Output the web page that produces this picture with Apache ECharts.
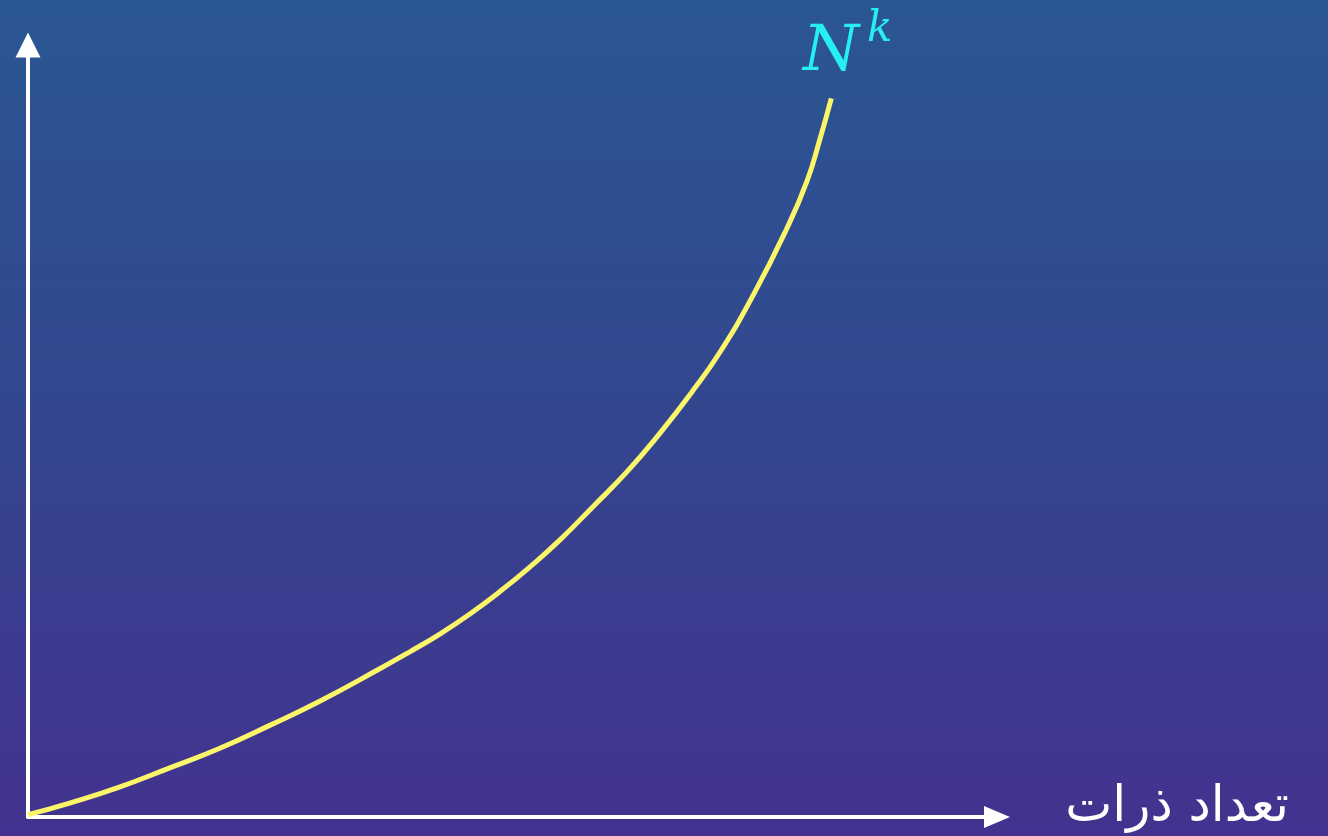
<!DOCTYPE html>
<html lang="en">

<head>
    <meta charset="UTF-8">
    <title>N^k</title>
    <script src="https://cdnjs.cloudflare.com/ajax/libs/echarts/6.0.0/echarts.min.js"></script>
    <style>
        html, body { margin: 0; padding: 0; }
    </style>
</head>

<body>
    <div id="main" style="width: 1328px;height:836px;"></div>
    <script type="text/javascript">
        // 曲线上读出的点（任意单位 0-100）
        const xValues = [0, 4.3, 9.5, 14.7, 19.8, 25.0, 30.1, 36.3, 39.4, 42.5, 45.6, 48.7, 51.8, 54.9, 58.3, 61.8, 65.2, 68.6, 71.4, 74.8, 78.3, 80.4, 81.7, 82.9];
        const yValues = [0.3, 1.8, 3.9, 6.4, 8.9, 11.9, 15.0, 19.2, 21.4, 23.7, 26.3, 29.2, 32.4, 35.9, 40.2, 44.7, 49.7, 55.2, 60.2, 67.5, 76.2, 82.4, 87.7, 93.1];
        const curveName = 'N^k';
        const xAxisName = 'تعداد ذرات';

        const myChart = echarts.init(document.getElementById('main'));

        let lineData = xValues.map((x, i) => [x, yValues[i]]);

        let axisLineStyle = {
            show: true,
            symbol: ['none', 'triangle'],
            lineStyle: { color: '#ffffff', width: 4 }
        };

        let option = {
            animation: false,
            backgroundColor: {
                type: 'linear', x: 0, y: 0, x2: 0, y2: 1,
                colorStops: [
                    { offset: 0, color: '#2a5693' },
                    { offset: 0.5, color: '#33468f' },
                    { offset: 1, color: '#43328f' }
                ]
            },
            grid: { left: 28, right: 331, top: 45, bottom: 19 },
            xAxis: {
                type: 'value',
                min: 0,
                max: 100,
                axisLine: Object.assign({}, axisLineStyle, { symbolSize: [22, 26] }),
                axisTick: { show: false },
                axisLabel: { show: false },
                splitLine: { show: false }
            },
            yAxis: {
                type: 'value',
                min: 0,
                max: 100,
                axisLine: Object.assign({}, axisLineStyle, { symbolSize: [25, 25] }),
                axisTick: { show: false },
                axisLabel: { show: false },
                splitLine: { show: false }
            },
            graphic: [
                {
                    type: 'text',
                    left: 803,
                    top: 21,
                    style: {
                        text: 'N',
                        fill: '#27eef0',
                        font: 'italic 64px "DejaVu Serif", "Liberation Serif", serif'
                    }
                },
                {
                    type: 'text',
                    left: 867,
                    top: 9,
                    style: {
                        text: 'k',
                        fill: '#27eef0',
                        font: 'italic 42px "DejaVu Serif", "Liberation Serif", serif'
                    }
                },
                {
                    type: 'text',
                    right: 39,
                    top: 783,
                    style: {
                        text: xAxisName,
                        fill: '#ffffff',
                        font: '50px "DejaVu Sans", "Noto Sans", sans-serif'
                    }
                }
            ],
            series: [
                {
                    name: curveName,
                    type: 'line',
                    smooth: true,
                    showSymbol: false,
                    lineStyle: { color: '#fbf56a', width: 5 },
                    data: lineData
                }
            ]
        };
        myChart.setOption(option);
    </script>
</body>

</html>
